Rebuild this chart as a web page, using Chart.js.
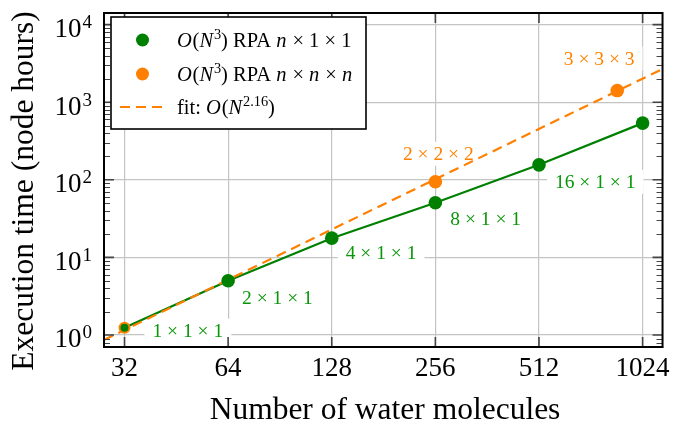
<!DOCTYPE html>
<html>
<head>
<meta charset="utf-8">
<script src="https://cdn.jsdelivr.net/npm/chart.js@4"></script>
<style>
  html, body { margin: 0; padding: 0; background: #fff; }
  #wrap { width: 676px; height: 425px; }
</style>
</head>
<body>
<div id="wrap"><canvas id="grafico"></canvas></div>
<script>
// datos
const n_agua = [32, 64, 128, 256, 512, 1024];
const horas_n11 = [1.24, 5.0, 17.7, 50.7, 156, 538];
const etiquetas_n11 = ['1 × 1 × 1', '2 × 1 × 1', '4 × 1 × 1', '8 × 1 × 1', '16 × 1 × 1', ''];

const n_agua_nnn = [32, 256, 864];
const horas_nnn = [1.24, 94.3, 1413];
const etiquetas_nnn = ['', '2 × 2 × 2', '3 × 3 × 3'];

const ajuste_x = [27.9, 1170];
const ajuste_y = [0.863, 2680];

const ticks_x = [32, 64, 128, 256, 512, 1024];
const exponentes_y = [0, 1, 2, 3, 4];

const VERDE = '#008000';
const VERDE_TXT = '#0a960a';
const NARANJA = '#ff8000';
const SERIF = '"Liberation Serif", "DejaVu Serif", serif';

function puntos(xs, ys) {
    return xs.map((x, i) => ({ x: x, y: ys[i] }));
}

// dibuja texto con partes en cursiva / superindice
function dibujar_runs(ctx, runs, x, y, size) {
    let cx = x;
    runs.forEach(r => {
        const s = r.sup ? size * 0.7 : size;
        ctx.font = (r.i ? 'italic ' : '') + s + 'px ' + SERIF;
        const dy = r.sup ? -size * 0.38 : 0;
        ctx.fillText(r.t, cx, y + dy);
        cx += ctx.measureText(r.t).width + (r.i ? size * 0.04 : 0);
    });
    return cx;
}

const extras = {
    id: 'extras',
    beforeDatasetsDraw(chart) {
        const ctx = chart.ctx;
        const sx = chart.scales.x, sy = chart.scales.y;
        // etiquetas de puntos con fondo blanco
        const offs_n11 = [[28, 3], [14, 17], [14, 15], [15, 16], [16, 17]];
        const offs_nnn = [null, [3, -28], [-18, -32]];
        ctx.save();
        ctx.font = '19.5px ' + SERIF;
        ctx.textBaseline = 'middle';
        etiquetas_n11.forEach((t, i) => {
            if (!t) return;
            const px = sx.getPixelForValue(n_agua[i]) + offs_n11[i][0];
            const py = sy.getPixelForValue(horas_n11[i]) + offs_n11[i][1];
            const w = ctx.measureText(t).width;
            ctx.fillStyle = '#fff';
            ctx.fillRect(px - 8, py - 12, w + 16, 24);
            ctx.fillStyle = VERDE_TXT;
            ctx.textAlign = 'left';
            ctx.fillText(t, px, py + 1);
        });
        etiquetas_nnn.forEach((t, i) => {
            if (!t) return;
            const px = sx.getPixelForValue(n_agua_nnn[i]) + offs_nnn[i][0];
            const py = sy.getPixelForValue(horas_nnn[i]) + offs_nnn[i][1];
            const w = ctx.measureText(t).width;
            ctx.fillStyle = '#fff';
            ctx.fillRect(px - w / 2 - 8, py - 12, w + 16, 24);
            ctx.fillStyle = NARANJA;
            ctx.textAlign = 'center';
            ctx.fillText(t, px, py + 1);
        });
        ctx.restore();
    },
    afterDatasetsDraw(chart) {
        const ctx = chart.ctx;
        const a = chart.chartArea;
        const sx = chart.scales.x, sy = chart.scales.y;
        ctx.save();
        // marcas menores y mayores hacia dentro
        ctx.strokeStyle = '#444';
        ctx.lineWidth = 1;
        for (let e = -1; e <= 4; e++) {
            for (let m = 2; m <= 9; m++) {
                const v = m * Math.pow(10, e);
                const py = Math.round(sy.getPixelForValue(v)) + 0.5;
                if (py < a.top || py > a.bottom) continue;
                ctx.beginPath();
                ctx.moveTo(a.left, py); ctx.lineTo(a.left + 6, py);
                ctx.moveTo(a.right, py); ctx.lineTo(a.right - 6, py);
                ctx.stroke();
            }
        }
        ctx.lineWidth = 1.6;
        exponentes_y.forEach(e => {
            const py = sy.getPixelForValue(Math.pow(10, e));
            ctx.beginPath();
            ctx.moveTo(a.left, py); ctx.lineTo(a.left + 10, py);
            ctx.moveTo(a.right, py); ctx.lineTo(a.right - 10, py);
            ctx.stroke();
        });
        ticks_x.forEach(v => {
            const px = sx.getPixelForValue(v);
            ctx.beginPath();
            ctx.moveTo(px, a.bottom); ctx.lineTo(px, a.bottom - 10);
            ctx.moveTo(px, a.top); ctx.lineTo(px, a.top + 10);
            ctx.stroke();
        });
        // marco
        ctx.strokeStyle = '#000';
        ctx.lineWidth = 2;
        ctx.strokeRect(a.left, a.top, a.right - a.left, a.bottom - a.top);

        // etiquetas del eje y con superindice
        ctx.fillStyle = '#000';
        ctx.textBaseline = 'alphabetic';
        ctx.textAlign = 'left';
        exponentes_y.forEach(e => {
            const py = sy.getPixelForValue(Math.pow(10, e));
            ctx.font = '19px ' + SERIF;
            const we = ctx.measureText(String(e)).width;
            ctx.font = '27px ' + SERIF;
            const wb = ctx.measureText('10').width;
            const x0 = 92 - we - wb - 1;
            ctx.fillText('10', x0, py + 12.5);
            ctx.font = '19px ' + SERIF;
            ctx.fillText(String(e), x0 + wb + 1, py + 3.5);
        });

        // titulos de ejes
        ctx.font = '31.5px ' + SERIF;
        ctx.textAlign = 'center';
        ctx.textBaseline = 'middle';
        ctx.fillText('Number of water molecules', 385, 411);
        ctx.save();
        ctx.translate(25, 191);
        ctx.rotate(-Math.PI / 2);
        ctx.fillText('Execution time (node hours)', 0, 0);
        ctx.restore();

        // leyenda
        ctx.fillStyle = '#fff';
        ctx.fillRect(111, 17, 255, 112);
        ctx.strokeStyle = '#000';
        ctx.lineWidth = 1.6;
        ctx.strokeRect(111, 17, 255, 112);
        const items = [
            { tipo: 'p', color: VERDE, y: 40, runs: [{ t: 'O', i: true }, { t: '(' }, { t: 'N', i: true }, { t: '3', sup: true }, { t: ') RPA ' }, { t: 'n', i: true }, { t: ' × 1 × 1' }] },
            { tipo: 'p', color: NARANJA, y: 74, runs: [{ t: 'O', i: true }, { t: '(' }, { t: 'N', i: true }, { t: '3', sup: true }, { t: ') RPA ' }, { t: 'n', i: true }, { t: ' × ' }, { t: 'n', i: true }, { t: ' × ' }, { t: 'n', i: true }] },
            { tipo: 'l', color: NARANJA, y: 107, runs: [{ t: 'fit: ' }, { t: 'O', i: true }, { t: '(' }, { t: 'N', i: true }, { t: '2.16', sup: true }, { t: ')' }] }
        ];
        items.forEach(it => {
            if (it.tipo === 'p') {
                ctx.fillStyle = it.color;
                ctx.beginPath();
                ctx.arc(142.5, it.y, 6.5, 0, Math.PI * 2);
                ctx.fill();
            } else {
                ctx.strokeStyle = it.color;
                ctx.lineWidth = 2.2;
                ctx.setLineDash([10, 6]);
                ctx.beginPath();
                ctx.moveTo(120, it.y); ctx.lineTo(162, it.y);
                ctx.stroke();
                ctx.setLineDash([]);
            }
            ctx.fillStyle = '#000';
            ctx.textAlign = 'left';
            ctx.textBaseline = 'alphabetic';
            dibujar_runs(ctx, it.runs, 177, it.y + 7, 20.5);
        });
        ctx.restore();
    }
};

const config = {
    type: 'line',
    data: {
        datasets: [
            {
                label: 'linea n11',
                data: puntos(n_agua, horas_n11),
                borderColor: VERDE,
                borderWidth: 2.2,
                pointRadius: 0,
                order: 4
            },
            {
                label: 'fit',
                data: puntos(ajuste_x, ajuste_y),
                borderColor: NARANJA,
                borderWidth: 2.2,
                borderDash: [10, 6],
                pointRadius: 0,
                order: 3
            },
            {
                label: 'nnn',
                data: puntos(n_agua_nnn, horas_nnn),
                showLine: false,
                backgroundColor: NARANJA,
                borderColor: NARANJA,
                pointRadius: c => c.dataIndex === 0 ? 6 : 6.8,
                pointBorderWidth: 0,
                order: 2
            },
            {
                label: 'n11',
                data: puntos(n_agua, horas_n11),
                showLine: false,
                backgroundColor: VERDE,
                borderColor: VERDE,
                pointRadius: c => c.dataIndex === 0 ? 4 : 6.8,
                pointBorderWidth: 0,
                order: 1
            }
        ]
    },
    options: {
        responsive: false,
        animation: false,
        layout: { padding: { top: 13, right: 11, left: 0, bottom: 0 } },
        plugins: {
            legend: { display: false },
            tooltip: { enabled: false }
        },
        scales: {
            x: {
                type: 'logarithmic',
                min: 27.9,
                max: 1170,
                afterBuildTicks: s => { s.ticks = ticks_x.map(v => ({ value: v })); },
                afterFit: s => { s.height = 78; },
                grid: { color: '#c4c4c4', lineWidth: 1.2, drawTicks: false },
                border: { display: true, color: '#000', width: 2 },
                ticks: {
                    color: '#000',
                    padding: 6,
                    maxRotation: 0,
                    autoSkip: false,
                    font: { family: SERIF, size: 27 },
                    callback: v => String(v)
                }
            },
            y: {
                type: 'logarithmic',
                min: 0.716,
                max: 14125,
                afterBuildTicks: s => { s.ticks = exponentes_y.map(e => ({ value: Math.pow(10, e) })); },
                afterFit: s => { s.width = 104; },
                grid: { color: '#c4c4c4', lineWidth: 1.2, drawTicks: false },
                border: { display: true, color: '#000', width: 2 },
                ticks: { display: false }
            }
        }
    },
    plugins: [extras]
};

const canvas = document.getElementById('grafico');
canvas.width = 676;
canvas.height = 425;
new Chart(canvas.getContext('2d'), config);
</script>
</body>
</html>
